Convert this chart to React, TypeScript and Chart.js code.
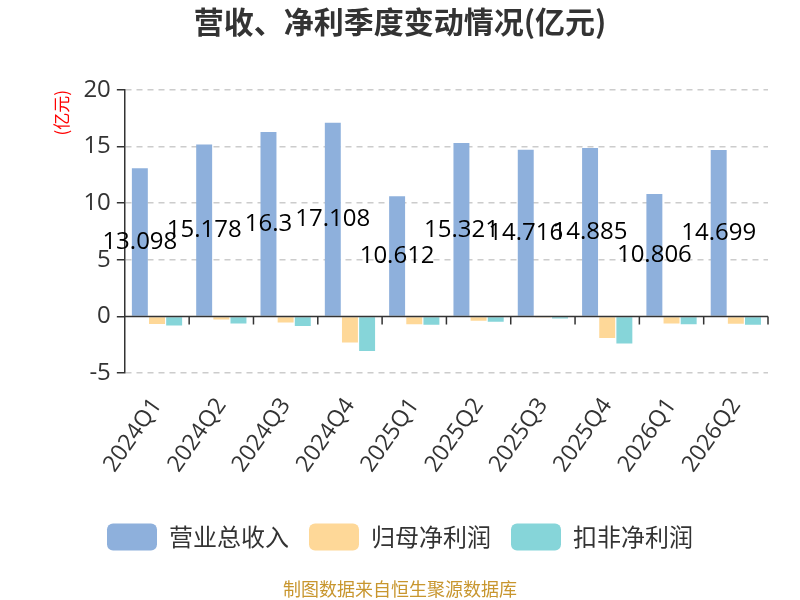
import React, { useEffect, useRef } from "react";
import { Chart, registerables } from "chart.js";

Chart.register(...registerables);

const categories = ["2024Q1", "2024Q2", "2024Q3", "2024Q4", "2025Q1", "2025Q2", "2025Q3", "2025Q4", "2026Q1", "2026Q2"];
const revenue = [13.098, 15.178, 16.3, 17.108, 10.612, 15.321, 14.716, 14.885, 10.806, 14.699];
const netProfit = [-0.67, -0.27, -0.53, -2.3, -0.68, -0.38, -0.05, -1.91, -0.62, -0.65];
const deductedProfit = [-0.8, -0.62, -0.85, -3.06, -0.74, -0.47, -0.18, -2.38, -0.68, -0.74];
const yTicks = [-5, 0, 5, 10, 15, 20];

const FONT = "'Noto Sans CJK SC', 'Noto Sans', sans-serif";
const NUM_FONT = "'Open Sans', 'Noto Sans CJK SC', sans-serif";

const zeroLinePlugin = {
  id: "zeroLine",
  afterDatasetsDraw(chart: any) {
    const { ctx, chartArea, scales } = chart;
    const y0 = scales.y.getPixelForValue(0);
    const n = categories.length;
    const w = (chartArea.right - chartArea.left) / n;
    ctx.save();
    ctx.strokeStyle = "#333";
    ctx.lineWidth = 1.5;
    ctx.beginPath();
    ctx.moveTo(chartArea.left, y0);
    ctx.lineTo(chartArea.right, y0);
    for (let i = 1; i <= n; i++) {
      const x = chartArea.left + i * w;
      ctx.moveTo(x, y0);
      ctx.lineTo(x, y0 + 8);
    }
    ctx.stroke();
    ctx.restore();
  },
};

const labelPlugin = {
  id: "barLabels",
  afterDatasetsDraw(chart: any) {
    const { ctx, scales } = chart;
    const meta = chart.getDatasetMeta(0);
    ctx.save();
    ctx.font = `24px ${NUM_FONT}`;
    ctx.fillStyle = "#000";
    ctx.textAlign = "center";
    ctx.textBaseline = "middle";
    meta.data.forEach((el: any, i: number) => {
      const v = revenue[i];
      const y = scales.y.getPixelForValue(v / 2);
      ctx.fillText(String(v), el.x, y);
    });
    ctx.restore();
  },
};

export default function App() {
  const ref = useRef<HTMLCanvasElement>(null);
  useEffect(() => {
    document.body.style.margin = "0";
    const chart = new Chart(ref.current as HTMLCanvasElement, {
      type: "bar",
      data: {
        labels: categories,
        datasets: [
          { label: "营业总收入", data: revenue, backgroundColor: "#8eb0dc" },
          { label: "归母净利润", data: netProfit, backgroundColor: "#fed898" },
          { label: "扣非净利润", data: deductedProfit, backgroundColor: "#86d5d9" },
        ],
      },
      options: {
        animation: false,
        responsive: false,
        devicePixelRatio: 1,
        layout: { padding: { left: 32, right: 32, top: 0, bottom: 0 } },
        datasets: { bar: { categoryPercentage: 0.8, barPercentage: 0.93 } },
        plugins: {
          title: {
            display: true,
            text: "营收、净利季度变动情况(亿元)",
            color: "#333",
            font: { family: FONT, size: 30, weight: "bold" },
            padding: { top: 4, bottom: 50 },
          },
          subtitle: {
            display: true,
            position: "bottom",
            text: "制图数据来自恒生聚源数据库",
            color: "#c8962e",
            font: { family: FONT, size: 18 },
            padding: { top: 18, bottom: 0 },
          },
          legend: {
            position: "bottom",
            labels: {
              boxWidth: 50,
              boxHeight: 27,
              useBorderRadius: true,
              borderRadius: 6,
              padding: 20,
              color: "#333",
              font: { family: FONT, size: 24 },
            },
          },
          tooltip: { enabled: false },
        },
        scales: {
          x: {
            grid: { display: false },
            border: { display: false },
            afterFit: (scale: any) => {
              scale.height += 14;
            },
            ticks: {
              color: "#333",
              font: { family: NUM_FONT, size: 23 },
              minRotation: 55,
              maxRotation: 55,
              padding: 12,
            },
          },
          y: {
            min: -5,
            max: 20,
            afterBuildTicks: (scale: any) => {
              scale.ticks = yTicks.map((v) => ({ value: v }));
            },
            grid: {
              color: (c: any) => (c.tick && c.tick.value === 0 ? "rgba(0,0,0,0)" : "#ccc"),
              lineWidth: 1.5,
              tickColor: "#333",
              tickLength: 8,
              tickWidth: 1.5,
            },
            border: { display: true, color: "#333", width: 1.5, dash: [6, 5] },
            ticks: {
              color: "#333",
              font: { family: NUM_FONT, size: 24 },
              padding: 6,
            },
            title: {
              display: true,
              text: "(亿元)",
              align: "end",
              color: "#ff0000",
              font: { family: FONT, size: 17 },
              padding: { top: 19, bottom: 6 },
            },
          },
        },
      },
      plugins: [zeroLinePlugin, labelPlugin],
    });
    return () => chart.destroy();
  }, []);
  return <canvas ref={ref} width={800} height={600} style={{ display: "block" }} />;
}
